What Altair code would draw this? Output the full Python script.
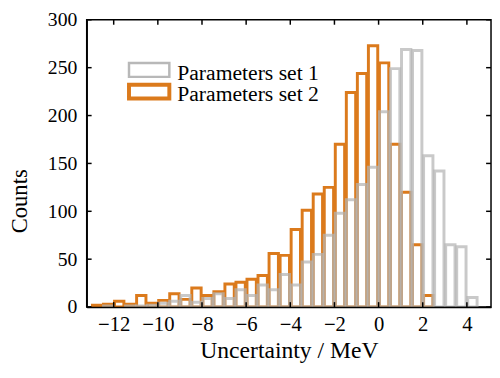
import altair as alt
import pandas as pd

# Bin centers (bin width 0.5 MeV)
centers = [-12.75, -12.25, -11.75, -11.25, -10.75, -10.25, -9.75, -9.25, -8.75, -8.25,
           -7.75, -7.25, -6.75, -6.25, -5.75, -5.25, -4.75, -4.25, -3.75, -3.25,
           -2.75, -2.25, -1.75, -1.25, -0.75, -0.25, 0.25, 0.75, 1.25, 1.75,
           2.25, 2.75, 3.25, 3.75, 4.25]
set1 = [0, 1, 0, 1, 1, 2, 4, 6, 12, 5,
        9, 14, 9, 18, 12, 23, 18, 34, 23, 47,
        55, 75, 98, 112, 128, 146, 204, 249, 269, 268,
        158, 142, 65, 63, 10]
set2 = [2, 3, 6, 3, 12, 4, 7, 14, 8, 20,
        12, 16, 24, 26, 29, 33, 56, 54, 81, 101,
        118, 125, 170, 224, 244, 273, 255, 170, 120, 65,
        12, 0, 0, 0, 0]
names = ["Parameters set 1", "Parameters set 2"]
x_ticks = [-12, -10, -8, -6, -4, -2, 0, 2, 4]
y_ticks = [0, 50, 100, 150, 200, 250, 300]

GRAY = "#b8b8b8"
ORANGE = "#db7a1c"
FONT = "Liberation Serif"
W, H = 411, 292

d1 = pd.DataFrame({"center": centers, "count": set1})
d1 = d1[d1["count"] > 0]
d2 = pd.DataFrame({"center": centers, "count": set2})
d2 = d2[d2["count"] > 0]

xs = alt.Scale(domain=[-13, 4.87], nice=False, zero=False)
ys = alt.Scale(domain=[0, 300], nice=False)

x_axis = alt.Axis(values=x_ticks, ticks=False, grid=False, domain=True,
                  domainColor="black", domainWidth=1.5, labelFont=FONT,
                  labelFontSize=21, labelColor="black", labelPadding=7,
                  title="Uncertainty / MeV", titleFont=FONT, titleFontSize=24,
                  titleFontWeight="normal", titleColor="black",
                  titleBaseline="alphabetic", titleY=51, zindex=1)
y_axis = alt.Axis(values=y_ticks, ticks=False, grid=False, domain=True,
                  domainColor="black", domainWidth=1.5, labelFont=FONT,
                  labelFontSize=20, labelColor="black", labelPadding=10,
                  title="Counts", titleFont=FONT, titleFontSize=23,
                  titleFontWeight="normal", titleColor="black",
                  titleBaseline="alphabetic", titleX=-61, titleY=184, zindex=1)

X = alt.X("center:Q", scale=xs, axis=x_axis, title="Uncertainty / MeV")
Y = alt.Y("count:Q", scale=ys, axis=y_axis, title="Counts")

orange = alt.Chart(d2).mark_bar(orient="vertical", size=9.5, fill="white",
                                stroke=ORANGE, strokeWidth=3, clip=True).encode(x=X, y=Y)
gray = alt.Chart(d1).mark_bar(orient="vertical", size=9.5, fill="white",
                              fillOpacity=0, stroke="#b4b4b4", strokeOpacity=0.72,
                              strokeWidth=3, clip=True).encode(x=X, y=Y)

xt = pd.DataFrame({"center": x_ticks})
yt = pd.DataFrame({"count": y_ticks})
tick_bottom = alt.Chart(xt).mark_rule(color="black", strokeWidth=1.5).encode(
    x=X, y=alt.value(H - 5), y2=alt.value(H))
tick_top = alt.Chart(xt).mark_rule(color="black", strokeWidth=1.5).encode(
    x=X, y=alt.value(0), y2=alt.value(5))
tick_left = alt.Chart(yt).mark_rule(color="black", strokeWidth=1.5).encode(
    y=Y, x=alt.value(0), x2=alt.value(5))
tick_right = alt.Chart(yt).mark_rule(color="black", strokeWidth=1.5).encode(
    y=Y, x=alt.value(W - 5), x2=alt.value(W))

leg1 = pd.DataFrame({"name": [names[0]]})
leg2 = pd.DataFrame({"name": [names[1]]})
sym1 = alt.Chart(leg1).mark_rect(fill="white", stroke=GRAY, strokeWidth=2.5).encode(
    x=alt.value(43), x2=alt.value(84), y=alt.value(44), y2=alt.value(58))
sym2 = alt.Chart(leg2).mark_rect(fill="white", stroke=ORANGE, strokeWidth=4).encode(
    x=alt.value(43), x2=alt.value(84), y=alt.value(66), y2=alt.value(80))
txt1 = alt.Chart(leg1).mark_text(align="left", baseline="alphabetic", font=FONT,
                                 fontSize=22, color="black").encode(
    x=alt.value(92), y=alt.value(61), text="name:N")
txt2 = alt.Chart(leg2).mark_text(align="left", baseline="alphabetic", font=FONT,
                                 fontSize=22, color="black").encode(
    x=alt.value(92), y=alt.value(83), text="name:N")

chart = alt.layer(orange, gray, tick_bottom, tick_top, tick_left, tick_right,
                  sym1, sym2, txt1, txt2).properties(
    width=W, height=H,
    autosize=alt.AutoSizeParams(type="none"),
    padding={"left": 80, "top": 9, "right": 1, "bottom": 62},
).configure_view(stroke="black", strokeWidth=1.5)

chart.save("out.html", embed_options={"renderer": "svg", "actions": False})
